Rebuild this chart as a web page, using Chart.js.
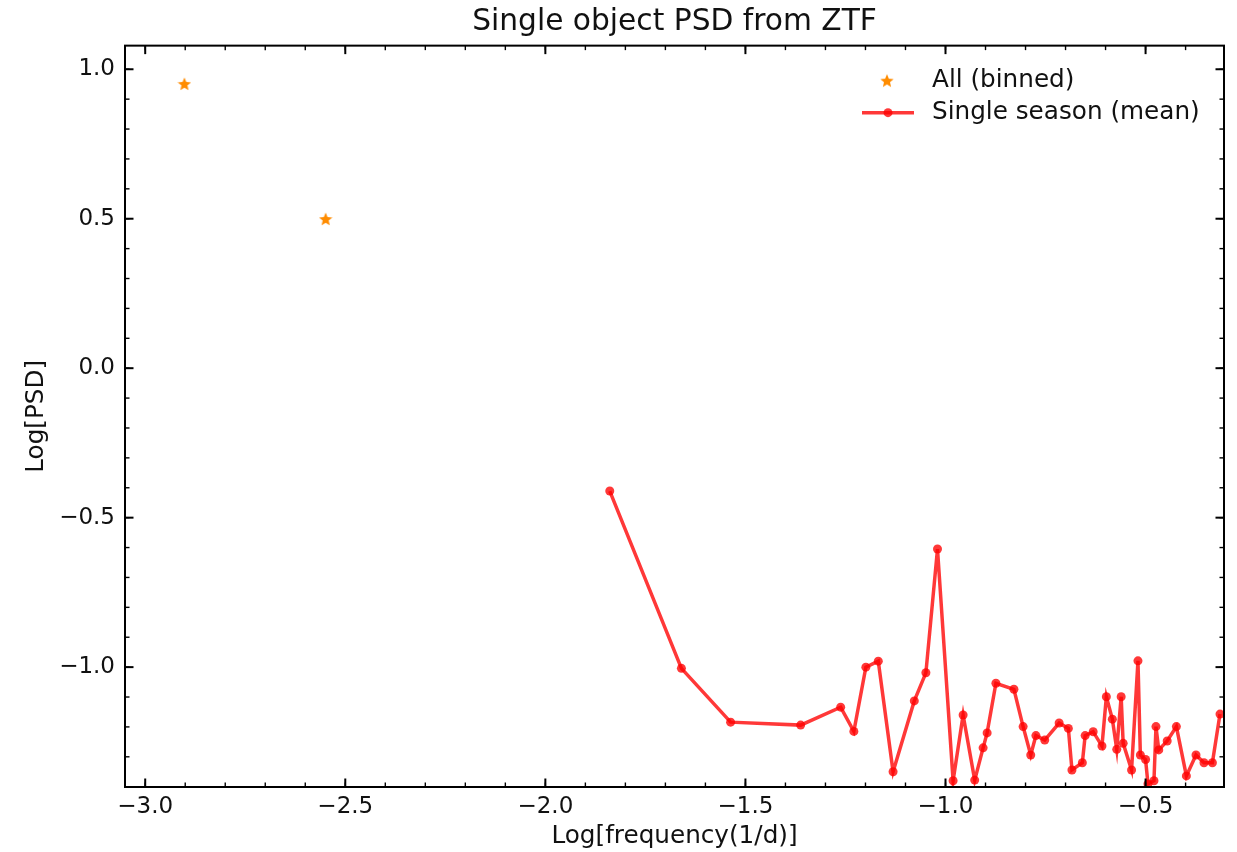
<!DOCTYPE html>
<html>
<head>
<meta charset="utf-8">
<script src="https://cdn.jsdelivr.net/npm/chart.js@4"></script>
<style>
  html, body { margin: 0; padding: 0; background: #fff; }
  #psd { display: block; }
</style>
</head>
<body>
<canvas id="psd" width="1237" height="852"></canvas>
<script>
// binned PSD over the full light curve
const binnedLogFreq = [-2.902, -2.549];
const binnedLogPsd = [0.951, 0.499];

// mean PSD of the single seasons
const seasonLogFreq = [
  -1.839, -1.660, -1.537, -1.362, -1.262, -1.229, -1.199, -1.168, -1.131, -1.078,
  -1.049, -1.020, -0.981, -0.956, -0.927, -0.906, -0.896, -0.874, -0.829, -0.806,
  -0.787, -0.774, -0.752, -0.716, -0.693, -0.684, -0.658, -0.651, -0.631, -0.609,
  -0.598, -0.583, -0.572, -0.561, -0.556, -0.535, -0.519, -0.513, -0.500, -0.494,
  -0.479, -0.474, -0.467, -0.446, -0.423, -0.398, -0.374, -0.354, -0.333, -0.314,
];
const seasonLogPsd = [
  -0.411, -1.004, -1.184, -1.194, -1.134, -1.215, -1.000, -0.980, -1.350, -1.113,
  -1.019, -0.605, -1.380, -1.160, -1.378, -1.270, -1.220, -1.054, -1.074, -1.199,
  -1.294, -1.229, -1.244, -1.187, -1.205, -1.344, -1.320, -1.229, -1.216, -1.264,
  -1.099, -1.174, -1.275, -1.099, -1.255, -1.344, -0.979, -1.294, -1.309, -1.391,
  -1.380, -1.199, -1.277, -1.247, -1.199, -1.364, -1.294, -1.320, -1.320, -1.157,
];

const xMajorTicks = [-3.0, -2.5, -2.0, -1.5, -1.0, -0.5];
const yMajorTicks = [-1.0, -0.5, 0.0, 0.5, 1.0];
const xRange = [-3.0505, -0.304];
const yRange = [-1.401, 1.079];

const FONT = "'DejaVu Sans', 'Liberation Sans', sans-serif";
const RED = 'rgba(255, 0, 0, 0.78)';
const ORANGE = '#ff8c00';

// minor ticks every 0.1 inside the axis range
function minorTicks(range) {
  const out = [];
  for (let i = Math.ceil(range[0] * 10); i <= Math.floor(range[1] * 10); i++) out.push(i / 10);
  return out;
}

function fmt(v) {
  const s = Math.abs(v).toFixed(1);
  return v < -1e-9 ? '\u2212' + s : s;
}

// filled five-point star used as point style
function starImage(size, color) {
  const c = document.createElement('canvas');
  c.width = size; c.height = size;
  const g = c.getContext('2d');
  const r = size / 2, ri = r * 0.45;
  g.beginPath();
  for (let i = 0; i < 10; i++) {
    const rad = i % 2 ? ri : r;
    const a = -Math.PI / 2 + i * Math.PI / 5;
    const px = r + rad * Math.cos(a), py = r + 0.6 + rad * Math.sin(a);
    if (i === 0) g.moveTo(px, py); else g.lineTo(px, py);
  }
  g.closePath();
  g.fillStyle = color;
  g.fill();
  return c;
}
const star = starImage(14, ORANGE);

// frame on four sides with inward major/minor ticks
const frameTicks = {
  id: 'frameTicks',
  afterDraw(chart) {
    const { ctx, chartArea: a, scales: { x, y } } = chart;
    ctx.save();
    ctx.strokeStyle = '#000';
    const tick = (x1, y1, x2, y2, w) => {
      ctx.lineWidth = w;
      ctx.beginPath(); ctx.moveTo(x1, y1); ctx.lineTo(x2, y2); ctx.stroke();
    };
    minorTicks(xRange).forEach(v => {
      const px = x.getPixelForValue(v);
      tick(px, a.bottom, px, a.bottom - 4.5, 1.4);
      tick(px, a.top, px, a.top + 4.5, 1.4);
    });
    minorTicks(yRange).forEach(v => {
      const py = y.getPixelForValue(v);
      tick(a.left, py, a.left + 4.5, py, 1.4);
      tick(a.right, py, a.right - 4.5, py, 1.4);
    });
    xMajorTicks.forEach(v => {
      const px = x.getPixelForValue(v);
      tick(px, a.bottom, px, a.bottom - 8.5, 2);
      tick(px, a.top, px, a.top + 8.5, 2);
    });
    yMajorTicks.forEach(v => {
      const py = y.getPixelForValue(v);
      tick(a.left, py, a.left + 8.5, py, 2);
      tick(a.right, py, a.right - 8.5, py, 2);
    });
    ctx.lineWidth = 2;
    ctx.strokeRect(a.left, a.top, a.right - a.left, a.bottom - a.top);
    ctx.restore();
  },
};

// matplotlib-style legend in the upper right corner
const cornerLegend = {
  id: 'cornerLegend',
  afterDraw(chart) {
    const { ctx, chartArea: a } = chart;
    const sx = a.right - 337, tx = a.right - 292;
    const row1 = a.top + 35, row2 = a.top + 67;
    ctx.save();
    ctx.drawImage(star, sx - 7, row1 - 7);
    ctx.strokeStyle = RED;
    ctx.lineWidth = 3.5;
    ctx.beginPath(); ctx.moveTo(sx - 25, row2); ctx.lineTo(sx + 27, row2); ctx.stroke();
    ctx.fillStyle = RED;
    ctx.beginPath(); ctx.arc(sx + 1, row2, 4.5, 0, Math.PI * 2); ctx.fill();
    ctx.fillStyle = '#111';
    ctx.font = '24.7px ' + FONT;
    ctx.textBaseline = 'middle';
    ctx.fillText('All (binned)', tx, row1);
    ctx.fillText('Single season (mean)', tx, row2);
    ctx.restore();
  },
};

new Chart(document.getElementById('psd'), {
  type: 'scatter',
  data: {
    datasets: [
      {
        label: 'All (binned)',
        data: binnedLogFreq.map((v, i) => ({ x: v, y: binnedLogPsd[i] })),
        pointStyle: star,
        clip: 0,
      },
      {
        label: 'Single season (mean)',
        data: seasonLogFreq.map((v, i) => ({ x: v, y: seasonLogPsd[i] })),
        showLine: true,
        borderColor: RED,
        borderWidth: 3.5,
        backgroundColor: RED,
        pointRadius: 4.5,
        pointBorderWidth: 0,
        pointBackgroundColor: RED,
        clip: 0,
      },
    ],
  },
  options: {
    responsive: false,
    animation: false,
    devicePixelRatio: 1,
    layout: { padding: { top: 0, right: 13, bottom: 0, left: 0 } },
    plugins: {
      legend: { display: false },
      tooltip: { enabled: false },
      title: {
        display: true,
        fullSize: false,
        text: 'Single object PSD from ZTF',
        color: '#111',
        font: { family: FONT, size: 29.7, weight: 'normal' },
        padding: { top: 4, bottom: 6 },
      },
    },
    scales: {
      x: {
        min: xRange[0],
        max: xRange[1],
        grid: { display: false, drawTicks: false },
        border: { display: false },
        afterBuildTicks: (s) => { s.ticks = xMajorTicks.map(v => ({ value: v })); },
        afterFit: (s) => { s.height = 65; },
        ticks: {
          callback: (v) => fmt(v),
          color: '#111',
          font: { family: FONT, size: 23 },
          padding: 6,
          maxRotation: 0,
        },
        title: {
          display: true,
          text: 'Log[frequency(1/d)]',
          color: '#111',
          font: { family: FONT, size: 24.7 },
          padding: { top: 0, bottom: 1 },
        },
      },
      y: {
        min: yRange[0],
        max: yRange[1],
        grid: { display: false, drawTicks: false },
        border: { display: false },
        afterBuildTicks: (s) => { s.ticks = yMajorTicks.map(v => ({ value: v })); },
        afterFit: (s) => { s.width = 125; },
        ticks: {
          callback: (v) => fmt(v),
          color: '#111',
          font: { family: FONT, size: 23 },
          padding: 10,
        },
        title: {
          display: true,
          text: 'Log[PSD]',
          color: '#111',
          font: { family: FONT, size: 24.7 },
          padding: { top: 22, bottom: 0 },
        },
      },
    },
  },
  plugins: [frameTicks, cornerLegend],
});
</script>
</body>
</html>
